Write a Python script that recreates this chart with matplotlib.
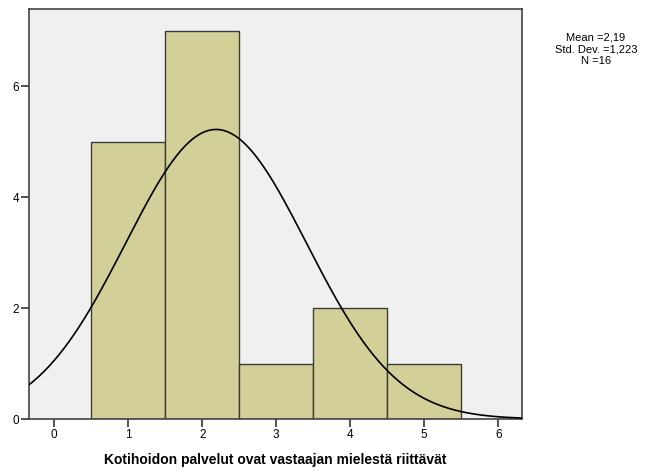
import numpy as np
import matplotlib.pyplot as plt

plt.rcParams['font.family'] = ['Liberation Sans', 'DejaVu Sans']

# histogram data (category value -> count)
values = [1, 2, 3, 4, 5]
counts = [5, 7, 1, 2, 1]
mean_label = "2,19"
sd_label = "1,223"
n_label = "16"

obs = np.repeat(values, counts)
mu = obs.mean()
sd = obs.std(ddof=1)
n = len(obs)

fig = plt.figure(figsize=(6.57, 4.74), dpi=100)
ax = fig.add_axes([0.0441, 0.116, 0.7504, 0.865])
ax.set_facecolor('#f0f0f0')

ax.bar(values, counts, width=1.0, color='#d3cf98', edgecolor='#3c3c3c',
       linewidth=1.0, zorder=2)

xs = np.linspace(-0.34, 6.32, 400)
curve = n * 1.0 * np.exp(-0.5 * ((xs - mu) / sd) ** 2) / (sd * np.sqrt(2 * np.pi))
ax.plot(xs, curve, color='black', linewidth=1.2, zorder=3)

ax.set_xlim(-0.34, 6.32)
ax.set_ylim(0, 7.39)
ax.set_xticks(range(0, 7))
ax.set_yticks([0, 2, 4, 6])
ax.tick_params(direction='out', length=5.5, width=1.2, labelsize=8.5,
               color='#333333', pad=1.5)
for s in ax.spines.values():
    s.set_color('#444444')
    s.set_linewidth(1.2)

ax.set_xlabel('Kotihoidon palvelut ovat vastaajan mielestä riittävät',
              fontsize=10, fontweight='bold', labelpad=9)

fig.text(0.907, 0.932, f"Mean ={mean_label}\nStd. Dev. ={sd_label}\nN ={n_label}",
         ha='center', va='top', fontsize=8, linespacing=1.25)

plt.savefig('out.png', dpi=100)
